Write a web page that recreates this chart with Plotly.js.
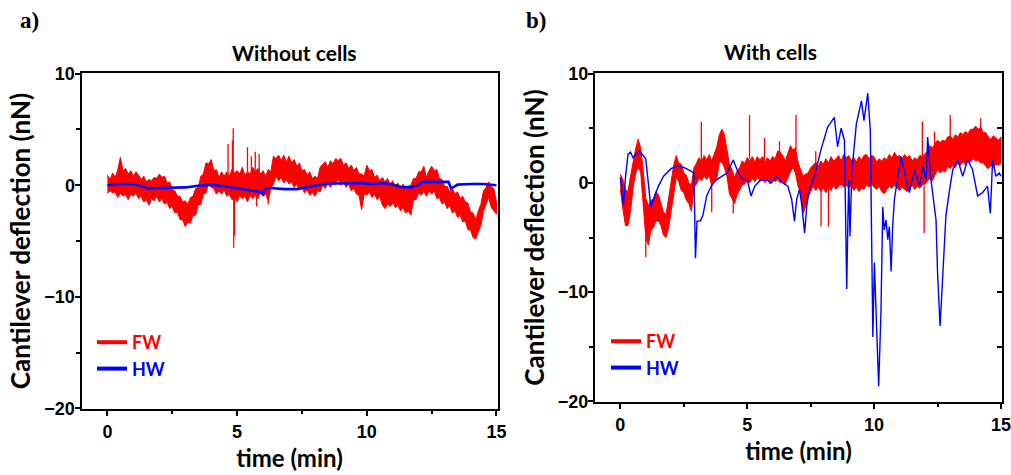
<!DOCTYPE html>
<html>
<head>
<meta charset="utf-8">
<script src="https://cdn.plot.ly/plotly-3.0.1.min.js"></script>
<style>html,body{margin:0;padding:0;background:#fff;}#chart{width:1011px;height:475px;}</style>
</head>
<body>
<div id="chart"></div>
<script>
// ---------- shared time grid (min) for the FW envelopes ----------
const fwTime = [0.0,0.1,0.2,0.3,0.4,0.5,0.6,0.7,0.8,0.9,1.0,1.1,1.2,1.3,1.4,1.5,1.6,1.7,1.8,1.9,2.0,2.1,2.2,2.3,2.4,2.5,2.6,2.7,2.8,2.9,3.0,3.1,3.2,3.3,3.4,3.5,3.6,3.7,3.8,3.9,4.0,4.1,4.2,4.3,4.4,4.5,4.6,4.7,4.8,4.9,5.0,5.1,5.2,5.3,5.4,5.5,5.6,5.7,5.8,5.9,6.0,6.1,6.2,6.3,6.4,6.5,6.6,6.7,6.8,6.9,7.0,7.1,7.2,7.3,7.4,7.5,7.6,7.7,7.8,7.9,8.0,8.1,8.2,8.3,8.4,8.5,8.6,8.7,8.8,8.9,9.0,9.1,9.2,9.3,9.4,9.5,9.6,9.7,9.8,9.9,10.0,10.1,10.2,10.3,10.4,10.5,10.6,10.7,10.8,10.9,11.0,11.1,11.2,11.3,11.4,11.5,11.6,11.7,11.8,11.9,12.0,12.1,12.2,12.3,12.4,12.5,12.6,12.7,12.8,12.9,13.0,13.1,13.2,13.3,13.4,13.5,13.6,13.7,13.8,13.9,14.0,14.1,14.2,14.3,14.4,14.5,14.6,14.7,14.8,14.9,15.0];

// ---------- Panel a) Without cells ----------
// FW (red): upper / lower edge of the noisy band
const fwA_hi = [0.9,0.5,1.1,0.7,1.4,2.5,1.3,1.5,1.0,1.3, 0.8,1.2,0.9,0.5,0.8,0.3,0.5,0.4,0.7,0.6, 1.0,0.7,0.8,0.2,0.3,-0.4,-0.5,-1.0,-1.0,-1.5, -1.4,-1.7,-1.1,-1.0,-0.3,-0.2,0.8,1.0,2.0,1.9, 2.3,1.3,1.4,0.7,1.2,0.8,1.2,0.8,1.4,1.1, 1.3,1.0,1.6,0.9,1.2,1.0,1.6,1.2,1.5,1.0, 1.3,0.8,1.4,1.2,2.6,2.4,2.7,2.2,2.7,2.1, 2.6,2.0,2.3,1.7,2.0,1.3,1.4,0.9,1.2,0.6, 0.8,0.6,1.6,1.9,2.1,1.6,2.2,1.9,2.4,2.2, 2.4,1.8,2.0,1.5,1.8,1.3,1.6,1.0,1.0,0.8, 1.8,1.3,1.4,0.7,0.9,0.4,0.7,0.3,0.6,0.1, 0.4,-0.1,0.2,-0.3,0.1,-0.4,-0.1,0.0,0.6,0.6, 1.2,1.2,1.7,0.7,1.3,1.7,1.3,1.4,0.6,0.5, -0.1,-0.1,-0.6,-0.3,-0.8,-0.6,-1.2,-1.0,-1.5,-1.6, -2.4,-2.5,-3.1,-2.3,-1.7,-0.5,-0.2,0.3,-0.1,-0.3, -1.5];
const fwA_lo = [-0.75,-0.5,-0.7,-0.6,-1.1,-0.7,-1.0,-0.8,-1.3,-0.8, -1.0,-0.7,-1.2,-1.0,-1.5,-1.3,-1.8,-1.2,-1.4,-1.0, -1.5,-1.2,-1.7,-1.5,-2.1,-1.9,-2.5,-2.4,-3.1,-3.1, -3.7,-3.3,-3.4,-2.7,-2.7,-1.8,-1.7,-0.8,-0.7,0.1, -0.2,-0.3,-0.8,-0.5,-0.8,-0.4,-1.0,-0.8,-1.3,-1.1, -1.5,-0.9,-1.2,-1.0,-1.5,-0.9,-1.2,-0.9,-1.2,-0.7, -1.0,-0.8,-1.4,-0.3,0.1,0.8,0.4,0.7,0.2,0.5, 0.1,0.3,-0.2,0.1,-0.4,-0.2,-0.7,-0.4,-0.9,-0.6, -1.0,-0.5,-0.6,0.0,-0.3,0.2,-0.2,0.3,0.1,0.5, 0.0,0.3,-0.2,0.1,-0.5,-0.3,-0.8,-0.9,-2.2,-0.8, -0.9,-0.6,-1.1,-0.8,-1.3,-1.0,-1.8,-2.1,-1.7,-1.9, -1.6,-2.0,-1.8,-2.3,-2.0,-2.5,-2.3,-2.7,-1.3,-1.3, -0.7,-0.9,-0.5,-1.0,-0.5,-0.8,-0.5,-1.2,-1.1,-1.7, -1.5,-2.1,-1.8,-2.5,-2.3,-2.9,-2.7,-3.3,-3.2,-4.0, -4.0,-4.7,-4.8,-4.2,-3.6,-2.3,-1.8,-1.1,-2.0,-2.3, -2.6];
// FW spikes: time, band level they leave from, tip value
const fwA_spikeT    = [4.65, 4.82, 4.85, 4.87, 4.90, 5.40, 5.55, 5.70, 5.75, 5.85, 6.20];
const fwA_spikeFrom = [1.0, 1.0, 1.2, -1.2, -1.0, 1.2, 1.2, 1.3, -1.0, 1.2, -1.0];
const fwA_spikeTo   = [3.7, 4.0, 5.1, -5.6, -4.5, 3.4, 2.6, 3.0, -1.9, 2.8, -1.7];
// HW (blue)
const hwA_t = [0,0.5,1.0,1.3,1.6,2.0,2.5,3.0,3.5,4.0,4.5,5.0,5.5,5.9,6.0,6.1,6.3,6.8,7.3,7.8,8.3,8.8,9.3,9.8,10.3,10.6,10.9,11.3,11.7,12.0,12.1,12.5,13.0,13.15,13.25,13.5,14.0,14.5,15.0];
const hwA_v = [0,0.1,0.1,-0.1,-0.3,-0.25,-0.25,-0.2,-0.05,0.05,-0.1,-0.3,-0.45,-0.6,-0.8,-0.3,-0.25,-0.35,-0.35,-0.15,0.1,0.15,0.2,0.2,0.1,0.2,0.1,-0.15,-0.2,0.0,0.3,0.3,0.3,0.3,-0.3,0.05,0.1,0.1,0.0];

// ---------- Panel b) With cells ----------
const fwB_hi = [0.8,0.3,-0.6,-0.8,0.6,1.9,3.1,4.0,3.2,1.1, -1.4,-2.1,-1.6,-1.5,-0.8,-1.1,-1.9,-2.7,-2.9,-1.4, 0.4,1.6,2.5,1.8,1.7,0.9,0.7,0.0,-0.2,1.4, 1.8,2.3,1.9,2.5,2.1,2.6,2.0,2.6,3.3,4.4, 4.9,4.4,3.1,1.7,1.2,0.5,1.1,1.4,2.0,1.8, 2.3,2.0,2.4,1.9,2.4,2.1,2.4,1.9,2.3,2.0, 2.4,2.2,2.9,2.8,2.5,2.0,2.7,3.4,3.0,3.2, 1.9,1.2,0.6,0.8,0.9,1.4,1.6,1.9,1.5,2.0, 1.7,2.2,1.8,2.4,2.0,2.2,2.5,2.0,2.6,2.3, 2.5,2.0,2.3,1.9,2.4,2.1,2.5,2.6,2.2,2.5, 2.4,1.9,2.2,2.0,2.3,2.1,2.6,2.3,2.8,2.4, 2.5,2.2,2.6,2.3,2.5,2.0,2.3,2.1,2.5,2.4, 2.7,2.9,3.4,3.2,3.6,3.9,3.7,3.9,3.8,4.2, 4.3,4.0,4.4,4.2,4.6,4.4,4.7,4.5,4.9,4.9, 5.2,4.9,5.1,4.6,4.6,4.2,4.0,4.3,4.1,3.9, 4.2];
const fwB_lo = [-0.6,-2.4,-3.9,-3.9,-2.6,-0.5,0.9,1.4,1.0,-2.1, -5.0,-5.7,-4.4,-4.1,-3.5,-3.5,-3.9,-4.8,-5.0,-4.1, -2.7,-1.1,0.5,0.1,-0.7,-0.9,-1.6,-1.9,-2.6,-0.4, -0.1,0.4,0.2,0.6,0.3,0.7,-0.3,0.1,0.4,1.9, 1.9,1.4,0.6,-1.0,-1.4,-1.9,-1.1,-0.7,-0.2,-0.1, 0.2,0.0,0.4,0.1,0.5,0.2,0.4,0.0,0.3,-0.1, 0.4,0.1,0.3,0.0,0.2,-0.1,0.4,1.0,1.4,0.9, -0.3,-0.9,-2.8,-2.2,-1.3,-0.8,-0.3,-0.7,-0.4,-0.8, -0.5,-0.9,-0.4,-0.7,-0.2,-0.6,-0.3,-0.1,-0.4,-0.2, -0.5,-0.2,-0.7,-0.4,-0.8,-0.5,-0.6,-0.2,-0.4,-0.1, -0.4,-0.6,-0.3,-0.8,-1.0,-0.6,-0.3,-0.5,-0.2,-0.4, -0.7,-0.4,-0.6,-0.8,-0.5,-0.2,-0.6,-0.3,-0.5,-0.2, -0.1,0.1,0.4,0.2,0.7,1.2,0.9,1.1,1.0,1.5, 1.3,1.6,1.4,1.8,1.6,1.9,1.7,2.0,1.9,2.2, 2.0,2.1,1.8,1.9,1.5,1.3,1.6,1.4,1.7,1.6, 1.8];
const fwB_spikeT    = [1.00, 3.19, 3.60, 4.45, 5.09, 5.68, 6.27, 6.92, 7.70, 7.91, 8.20, 11.90, 11.97, 12.38, 13.00, 14.20];
const fwB_spikeFrom = [-5.0, 2.0, -0.2, -1.5, 2.2, 2.1, 2.8, 3.0, 1.8, -0.5, -0.5, 2.4, -0.3, 3.5, 4.3, 5.0];
const fwB_spikeTo   = [-6.8, 5.6, -2.7, -2.8, 6.2, 4.1, 3.8, 6.2, 2.9, -4.0, -4.0, 5.6, -4.6, 4.7, 6.2, 5.9];
const hwB_t = [0.0,0.05,0.12,0.2,0.3,0.4,0.5,0.6,0.75,0.9,1.0,1.1,1.2,1.35,1.5,1.7,1.85,2.0,2.2,2.4,2.6,2.8,2.9,2.96,3.02,3.15,3.25,3.4,3.6,3.8,4.0,4.2,4.45,4.6,4.8,5.0,5.15,5.3,5.5,5.75,5.95,6.15,6.4,6.6,6.75,6.86,6.95,7.06,7.15,7.26,7.35,7.45,7.65,7.9,8.17,8.43,8.56,8.7,8.83,8.88,8.92,8.97,9.0,9.05,9.12,9.3,9.5,9.6,9.75,9.85,9.9,9.95,10.01,10.08,10.18,10.27,10.34,10.4,10.47,10.54,10.6,10.67,10.73,10.8,11.0,11.06,11.26,11.39,11.59,11.79,11.92,12.05,12.11,12.24,12.44,12.5,12.6,12.7,12.83,12.95,13.1,13.3,13.49,13.69,13.88,14.08,14.27,14.47,14.58,14.67,14.8,14.93,15.0];
const hwB_v = [0.5,-0.5,-2.1,0.5,2.6,2.8,2.3,2.6,2.9,2.5,2.2,0.0,-2.2,-1.2,-0.3,0.6,1.0,1.3,1.5,1.5,1.3,1.0,0.9,-6.9,-3.5,-3.5,-3.0,-1.2,-0.2,0.3,0.6,0.9,2.1,1.2,0.3,0.3,-1.2,-0.3,0.2,0.3,0.0,0.6,0.0,-0.3,-1.5,-3.5,-1.5,-0.6,-2.0,-4.6,-2.0,-0.6,0.6,3.0,5.1,6.0,3.3,5.0,3.9,-2.0,-9.7,-3.0,0.3,-4.9,1.0,5.4,7.5,5.7,8.2,4.8,-5.0,-14.1,-7.3,-11.8,-18.6,-11.8,-2.2,-4.3,-3.4,-5.2,-4.0,-8.1,-4.0,-1.5,1.8,2.4,0.3,-0.9,1.2,-0.3,1.5,0.3,4.2,0.3,-3.4,-8.2,-13.1,-8.2,-3.0,-1.0,1.2,2.1,0.6,2.1,1.2,-1.2,-0.9,-0.3,-2.8,2.1,0.6,0.9,0.6];

// ---------- text ----------
const panelLabels = ['a)', 'b)'];
const panelTitles = ['Without cells', 'With cells'];
const seriesNames = ['FW', 'HW'];
const seriesColors = ['#ff0000', '#0000ff'];
const xTitle = 'time (min)';
const yTitle = 'Cantilever deflection (nN)';

function band(t, hi, lo) {
  return {x: t.concat(t.slice().reverse()), y: hi.concat(lo.slice().reverse())};
}
function spikes(t, from, to) {
  const x = [], y = [];
  for (let i = 0; i < t.length; i++) { x.push(t[i], t[i], null); y.push(from[i], to[i], null); }
  return {x, y};
}
const bandA = band(fwTime, fwA_hi, fwA_lo);
const bandB = band(fwTime, fwB_hi, fwB_lo);
const spA = spikes(fwA_spikeT, fwA_spikeFrom, fwA_spikeTo);
const spB = spikes(fwB_spikeT, fwB_spikeFrom, fwB_spikeTo);

const legendName = (i) => '<span style="color:' + seriesColors[i] + '">' + seriesNames[i] + '</span>';

const traces = [
  {x: bandA.x, y: bandA.y, type: 'scatter', mode: 'lines', fill: 'toself', fillcolor: seriesColors[0],
   line: {color: seriesColors[0], width: 1}, xaxis: 'x', yaxis: 'y', showlegend: false, hoverinfo: 'skip'},
  {x: spA.x, y: spA.y, type: 'scatter', mode: 'lines', line: {color: seriesColors[0], width: 1.3},
   xaxis: 'x', yaxis: 'y', showlegend: false, hoverinfo: 'skip'},
  {x: hwA_t, y: hwA_v, type: 'scatter', mode: 'lines', line: {color: seriesColors[1], width: 2.6},
   xaxis: 'x', yaxis: 'y', showlegend: false},
  {x: bandB.x, y: bandB.y, type: 'scatter', mode: 'lines', fill: 'toself', fillcolor: seriesColors[0],
   line: {color: seriesColors[0], width: 1}, xaxis: 'x2', yaxis: 'y2', showlegend: false, hoverinfo: 'skip'},
  {x: spB.x, y: spB.y, type: 'scatter', mode: 'lines', line: {color: seriesColors[0], width: 1.3},
   xaxis: 'x2', yaxis: 'y2', showlegend: false, hoverinfo: 'skip'},
  {x: hwB_t, y: hwB_v, type: 'scatter', mode: 'lines', line: {color: seriesColors[1], width: 1.4},
   xaxis: 'x2', yaxis: 'y2', showlegend: false},
  // legend entries
  {x: [null], y: [null], type: 'scatter', mode: 'lines', name: legendName(0), line: {color: seriesColors[0], width: 4}, xaxis: 'x', yaxis: 'y', legend: 'legend'},
  {x: [null], y: [null], type: 'scatter', mode: 'lines', name: legendName(1), line: {color: seriesColors[1], width: 4}, xaxis: 'x', yaxis: 'y', legend: 'legend'},
  {x: [null], y: [null], type: 'scatter', mode: 'lines', name: legendName(0), line: {color: seriesColors[0], width: 4}, xaxis: 'x2', yaxis: 'y3', legend: 'legend2'},
  {x: [null], y: [null], type: 'scatter', mode: 'lines', name: legendName(1), line: {color: seriesColors[1], width: 4}, xaxis: 'x2', yaxis: 'y3', legend: 'legend2'}
];

const W = 1011, H = 475;
const tickFont = {family: '"Liberation Sans", Arial, sans-serif', size: 18, color: '#000', weight: 'bold'};
const sansBold = 'Lato, "Open Sans", sans-serif';

function xAx(dom, anchor) {
  return {
    domain: dom, anchor: anchor, range: [-1, 15.04], tickmode: 'linear', tick0: 0, dtick: 5,
    ticks: 'outside', ticklen: 5, tickwidth: 2, tickcolor: '#000',
    minor: {tick0: 0, dtick: 2.5, ticks: 'outside', ticklen: 3, tickwidth: 2, tickcolor: '#000', showgrid: false},
    showline: true, linewidth: 2, linecolor: '#000', mirror: true, showgrid: false, zeroline: false,
    tickfont: tickFont, ticklabelstandoff: 0, ticklabeloverflow: 'allow',
    title: {text: xTitle, font: {family: sansBold, size: 24, color: '#000', weight: 'bold'}, standoff: 10}
  };
}
function yAx(dom, anchor) {
  return {
    domain: dom, anchor: anchor, range: [-20.05, 10.05], tickmode: 'linear', tick0: 0, dtick: 10,
    ticks: 'outside', ticklen: 5, tickwidth: 2, tickcolor: '#000',
    minor: {tick0: 0, dtick: 5, ticks: 'outside', ticklen: 4, tickwidth: 2, tickcolor: '#000', showgrid: false},
    showline: true, linewidth: 2, linecolor: '#000', mirror: true, showgrid: false, zeroline: false,
    tickfont: tickFont, ticklabelstandoff: -4, ticklabeloverflow: 'allow',
    title: {text: yTitle, font: {family: sansBold, size: 26, color: '#000', weight: 'bold'}, standoff: 6}
  };
}

const legendFont = {family: sansBold, size: 18, weight: 'bold', color: '#000'};
const layout = {
  width: W, height: H,
  margin: {l: 0, r: 0, t: 0, b: 0},
  paper_bgcolor: '#fff', plot_bgcolor: '#fff',
  showlegend: true,
  xaxis: xAx([81.5 / W, 497.5 / W], 'y'),
  yaxis: yAx([1 - 409 / H, 1 - 73 / H], 'x'),
  xaxis2: xAx([595 / W, 1002 / W], 'y2'),
  yaxis2: yAx([1 - 402 / H, 1 - 73 / H], 'x2'),
  yaxis3: {
    overlaying: 'y2', anchor: 'x2', side: 'right', range: [-20.05, 10.05], tickmode: 'linear', tick0: 0, dtick: 5,
    ticks: 'inside', ticklen: 5, tickwidth: 2, tickcolor: '#000', showticklabels: false,
    showline: false, showgrid: false, zeroline: false
  },
  legend: {x: 92 / W, y: 1 - 324 / H, xanchor: 'left', yanchor: 'top', bgcolor: 'rgba(0,0,0,0)',
           font: legendFont, tracegroupgap: 0, itemwidth: 30},
  legend2: {x: 606 / W, y: 1 - 323 / H, xanchor: 'left', yanchor: 'top', bgcolor: 'rgba(0,0,0,0)',
           font: legendFont, tracegroupgap: 0, itemwidth: 30},
  annotations: [
    {text: '<b>' + panelLabels[0] + '</b>', xref: 'paper', yref: 'paper', x: 29 / W, y: 1 - 20 / H,
     xanchor: 'center', yanchor: 'middle', showarrow: false,
     font: {family: '"Liberation Serif", "Times New Roman", serif', size: 23, color: '#000'}},
    {text: '<b>' + panelLabels[1] + '</b>', xref: 'paper', yref: 'paper', x: 536 / W, y: 1 - 20 / H,
     xanchor: 'center', yanchor: 'middle', showarrow: false,
     font: {family: '"Liberation Serif", "Times New Roman", serif', size: 23, color: '#000'}},
    {text: panelTitles[0], xref: 'paper', yref: 'paper', x: 294 / W, y: 1 - 53 / H,
     xanchor: 'center', yanchor: 'middle', showarrow: false,
     font: {family: sansBold, size: 21, color: '#000', weight: 'bold'}},
    {text: panelTitles[1], xref: 'paper', yref: 'paper', x: 770 / W, y: 1 - 52 / H,
     xanchor: 'center', yanchor: 'middle', showarrow: false,
     font: {family: sansBold, size: 21, color: '#000', weight: 'bold'}}
  ]
};

Plotly.newPlot('chart', traces, layout, {displayModeBar: false, staticPlot: true});
</script>
</body>
</html>
